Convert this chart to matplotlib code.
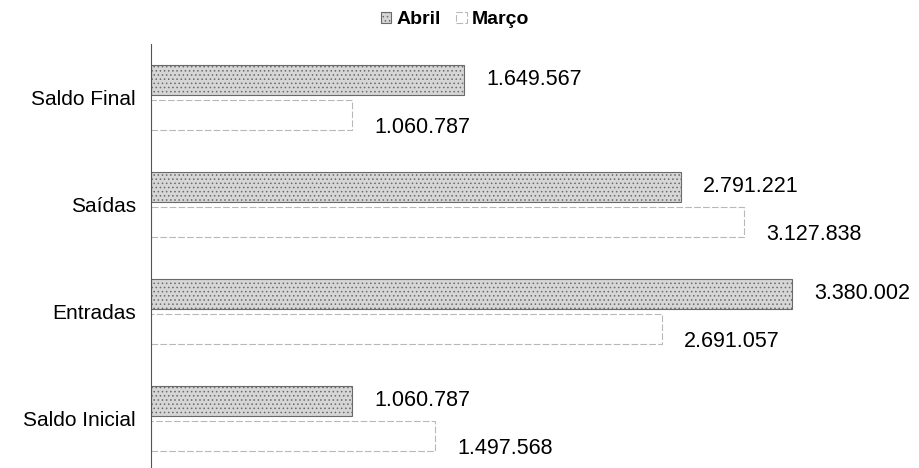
import matplotlib
matplotlib.use("Agg")
import matplotlib.pyplot as plt
import numpy as np

categories = ["Saldo Inicial", "Entradas", "Saídas", "Saldo Final"]
abril = [1060787, 3380002, 2791221, 1649567]
marco = [1497568, 2691057, 3127838, 1060787]


def fmt(v):
    return f"{v:,}".replace(",", ".")


plt.rcParams["font.family"] = ["Liberation Sans", "DejaVu Sans"]
plt.rcParams["hatch.color"] = "#a8a8a8"
plt.rcParams["hatch.linewidth"] = 0.6

fig = plt.figure(figsize=(9.19, 4.68), dpi=100)
ax = fig.add_axes([151 / 919, -4 / 468, 740 / 919, 428 / 468])

y = np.arange(len(categories))
h = 0.28
off = 0.165

b1 = ax.barh(y + off, abril, height=h, color="#d6d6d6", edgecolor="#6a6a6a",
             linewidth=0.8, hatch="....", label="Abril")
b2 = ax.barh(y - off, marco, height=h, color="white", edgecolor="#b8b8b8",
             linewidth=0.8, linestyle=(0, (6, 2)), label="Março")

for yi, v in zip(y, abril):
    ax.annotate(fmt(v), (v, yi + off), xytext=(16, 0), textcoords="offset points",
                va="center", ha="left", fontsize=15.5)
for yi, v in zip(y, marco):
    ax.annotate(fmt(v), (v, yi - off), xytext=(16, -9), textcoords="offset points",
                va="center", ha="left", fontsize=15.5)

ax.set_ylim(-0.5, 3.5)
ax.set_xlim(0, 3900000)
ax.set_yticks(y)
ax.set_yticklabels(categories, fontsize=15)
ax.tick_params(axis="y", length=0, pad=11)
ax.xaxis.set_visible(False)
for s in ["top", "right", "bottom"]:
    ax.spines[s].set_visible(False)
ax.spines["left"].set_color("#555555")
ax.spines["left"].set_linewidth(0.8)

leg = fig.legend(handles=[b1, b2], loc="upper center", bbox_to_anchor=(0.495, 1.013),
                 ncol=2, frameon=False, handlelength=0.55, handleheight=0.55,
                 handletextpad=0.25, columnspacing=0.8, fontsize=14)
for t in leg.get_texts():
    t.set_fontweight("bold")

fig.savefig("out.png", dpi=100)
